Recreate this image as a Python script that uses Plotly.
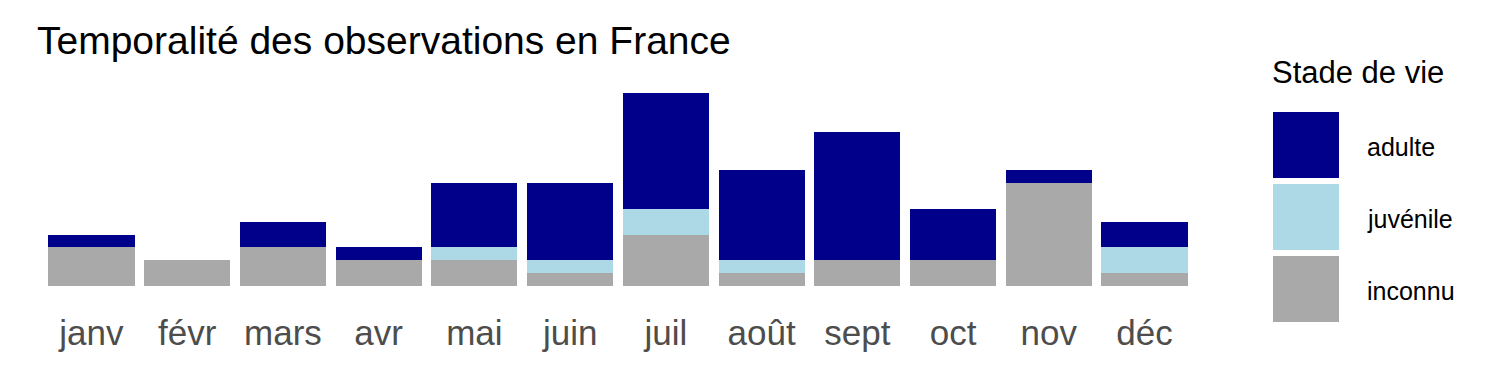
import plotly.graph_objects as go

months = ["janv", "févr", "mars", "avr", "mai", "juin", "juil", "août", "sept", "oct", "nov", "déc"]
inconnu = [3, 2, 3, 2, 2, 1, 4, 1, 2, 2, 8, 1]
juvenile = [0, 0, 0, 0, 1, 1, 2, 1, 0, 0, 0, 2]
adulte = [1, 0, 2, 1, 5, 6, 9, 7, 10, 4, 1, 2]

series = [
    ("inconnu", inconnu, "#A9A9A9"),
    ("juvénile", juvenile, "#ADD8E6"),
    ("adulte", adulte, "#00008B"),
]

FONT = "Liberation Sans, Arial, sans-serif"
W, H = 1500, 375
L, R, T, B = 34, 298, 80, 89

fig = go.Figure()
for name, vals, col in series:
    fig.add_trace(go.Bar(x=months, y=vals, name=name, marker=dict(color=col, line=dict(width=0)),
                         showlegend=False))

pw = W - L - R
ph = H - T - B
def px_x(p):
    return (p - L) / pw
def px_y(p):
    return (H - B - p) / ph

shapes = []
annotations = []
legend_items = [("adulte", "#00008B", 112), ("juvénile", "#ADD8E6", 184), ("inconnu", "#A9A9A9", 256)]
for name, col, top in legend_items:
    shapes.append(dict(type="rect", xref="paper", yref="paper",
                       x0=px_x(1273), x1=px_x(1339), y0=px_y(top + 66), y1=px_y(top),
                       fillcolor=col, line=dict(width=0)))
    annotations.append(dict(text=name, xref="paper", yref="paper", x=px_x(1365), y=px_y(top + 35),
                            xanchor="left", yanchor="middle", showarrow=False,
                            font=dict(family=FONT, size=25, color="#000000")))
annotations.append(dict(text="Stade de vie", xref="paper", yref="paper", x=px_x(1270), y=px_y(72),
                        xanchor="left", yanchor="middle", showarrow=False,
                        font=dict(family=FONT, size=31, color="#000000")))

fig.update_layout(
    width=W, height=H,
    margin=dict(l=L, r=R, t=T, b=B),
    paper_bgcolor="white", plot_bgcolor="white",
    barmode="stack", bargap=0.1,
    title=dict(text="Temporalité des observations en France", x=37 / W, xref="container", xanchor="left",
               y=1 - 40 / H, yref="container", yanchor="middle",
               font=dict(family=FONT, size=39, color="#000000")),
    xaxis=dict(range=[-0.6, 11.6], showgrid=False, zeroline=False, showline=False, ticks="",
               tickfont=dict(family=FONT, size=35, color="#4D4D4D"), ticklabelstandoff=23),
    yaxis=dict(range=[0, 16], showgrid=False, zeroline=False, showline=False, showticklabels=False, ticks=""),
    shapes=shapes, annotations=annotations,
)

fig.write_html("out.html")
